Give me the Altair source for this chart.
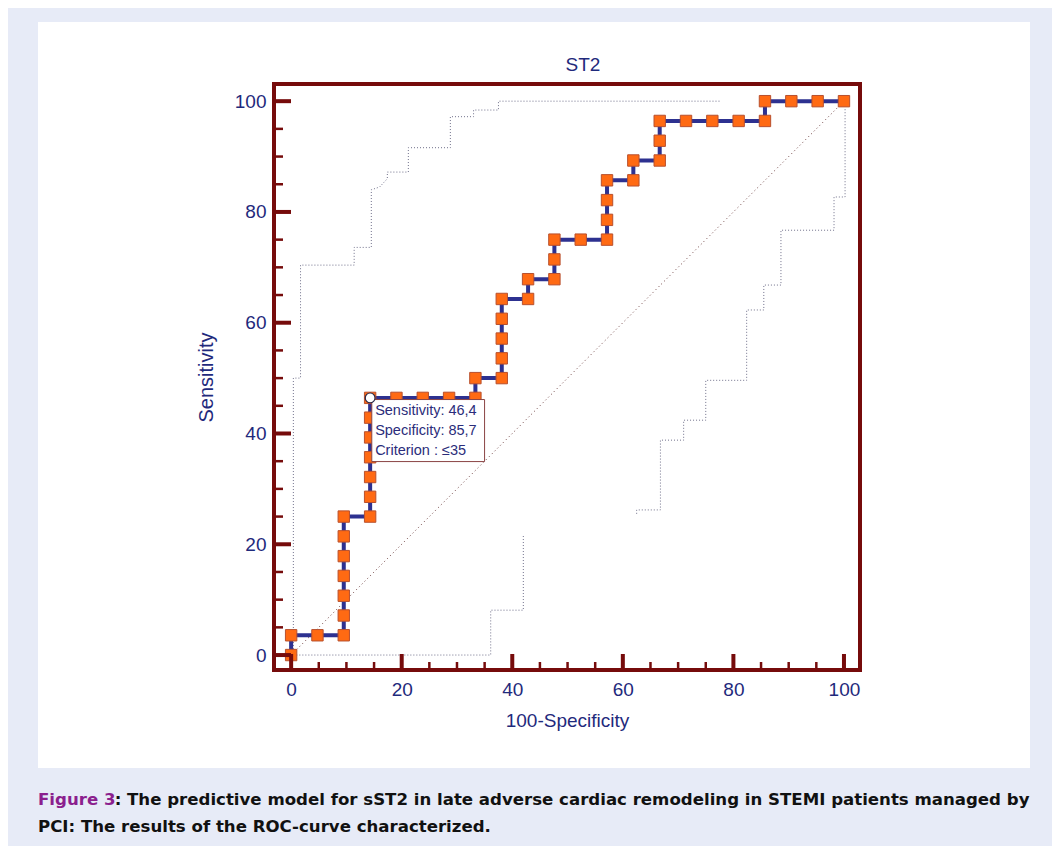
import altair as alt
import pandas as pd

# ---------------- data ----------------
roc_x = [0, 0, 4.76, 9.52, 9.52, 9.52, 9.52, 9.52, 9.52, 9.52,
         14.29, 14.29, 14.29, 14.29, 14.29, 14.29, 14.29,
         19.05, 23.81, 28.57, 33.33, 33.33,
         38.10, 38.10, 38.10, 38.10, 38.10,
         42.86, 42.86, 47.62, 47.62, 47.62, 52.38,
         57.14, 57.14, 57.14, 57.14, 61.90, 61.90,
         66.67, 66.67, 66.67, 71.43, 76.19, 80.95, 85.71, 85.71,
         90.48, 95.24, 100]
roc_y = [0, 3.57, 3.57, 3.57, 7.14, 10.71, 14.29, 17.86, 21.43, 25.0,
         25.0, 28.57, 32.14, 35.71, 39.29, 42.86, 46.43,
         46.43, 46.43, 46.43, 46.43, 50.0,
         50.0, 53.57, 57.14, 60.71, 64.29,
         64.29, 67.86, 67.86, 71.43, 75.0, 75.0,
         75.0, 78.57, 82.14, 85.71, 85.71, 89.29,
         89.29, 92.86, 96.43, 96.43, 96.43, 96.43, 96.43, 100,
         100, 100, 100]

upper_x = [0.4, 0.4, 1.7, 1.7, 11.4, 11.4, 14.5, 14.5, 16.0, 17.4, 17.4,
           21.2, 21.2, 28.8, 28.8, 33.0, 33.0, 37.5, 37.5, 77.6]
upper_y = [0, 50.0, 50.0, 70.4, 70.4, 73.6, 73.6, 84.0, 84.5, 86.0, 87.2,
           87.2, 91.6, 91.6, 97.2, 97.2, 98.4, 98.4, 100, 100]

lowerA_x = [0.4, 36.1, 36.1, 42.0, 42.0]
lowerA_y = [0, 0, 8.1, 8.1, 21.7]

lowerB_x = [62.5, 62.5, 66.8, 66.8, 71.0, 71.0, 75.0, 75.0, 82.4, 82.4,
            85.5, 85.5, 88.6, 88.6, 98.2, 98.2, 100.2, 100.2]
lowerB_y = [25.5, 26.2, 26.2, 38.8, 38.8, 42.4, 42.4, 49.6, 49.6, 62.3,
            62.3, 66.8, 66.8, 76.7, 76.7, 82.7, 82.7, 98.6]

diag_x = [0, 100]
diag_y = [0, 100]

cut_x = 14.29
cut_y = 46.43
ann_lines = ["Sensitivity: 46,4", "Specificity: 85,7", "Criterion : \u226435"]

tick_major = [0, 20, 40, 60, 80, 100]
tick_minor = [5, 10, 15, 25, 30, 35, 45, 50, 55, 65, 70, 75, 85, 90, 95]

chart_title = "ST2"
x_title = "100-Specificity"
y_title = "Sensitivity"
caption_head = "Figure 3"
caption_1 = ": The predictive model for sST2 in late adverse cardiac remodeling in STEMI patients managed by"
caption_2 = "PCI: The results of the ROC-curve characterized."

# ---------------- styling ----------------
W, H = 586, 586
NAVY = "#1f2a7c"
MAROON = "#760b0b"
FONT = "Liberation Sans"
BG = "#e7ebf7"

XS = alt.Scale(domain=[-3.1, 102.9], nice=False, zero=False)
YS = alt.Scale(domain=[-2.7, 103.1], nice=False, zero=False)

x_axis = alt.Axis(values=tick_major, domain=False, ticks=False, grid=False, zindex=1,
                  labelFont=FONT, labelFontSize=19, labelColor=NAVY, labelPadding=10,
                  title=x_title, titleFont=FONT, titleFontSize=19, titleFontWeight="normal",
                  titleColor=NAVY, titlePadding=12)
y_axis = alt.Axis(values=tick_major, domain=False, ticks=False, grid=False, zindex=1,
                  labelFont=FONT, labelFontSize=19, labelColor=NAVY, labelPadding=8,
                  title=y_title, titleFont=FONT, titleFontSize=20, titleFontWeight="normal",
                  titleColor=NAVY, titlePadding=18)


def X(f):
    return alt.X(f"{f}:Q", scale=XS, axis=x_axis)


def Y(f):
    return alt.Y(f"{f}:Q", scale=YS, axis=y_axis)


one = pd.DataFrame({"a": [0]})

roc_df = pd.DataFrame({"x": roc_x, "y": roc_y, "i": range(len(roc_x))})

band_rows = []
for seg, xs, ys in (("up", upper_x, upper_y), ("lowA", lowerA_x, lowerA_y), ("lowB", lowerB_x, lowerB_y)):
    for k, (a, b) in enumerate(zip(xs, ys)):
        band_rows.append({"x": a, "y": b, "i": k, "seg": seg})
band_df = pd.DataFrame(band_rows)
diag_df = pd.DataFrame({"x": diag_x, "y": diag_y, "i": [0, 1]})
cut_df = pd.DataFrame({"x": [cut_x], "y": [cut_y]})
box_df = pd.DataFrame({"x0": [cut_x + 0.3], "x1": [cut_x + 20.7],
                       "y0": [cut_y - 0.3], "y1": [cut_y - 11.5]})
maj_df = pd.DataFrame({"v": tick_major})
min_df = pd.DataFrame({"v": tick_minor})

panel = alt.Chart(one).mark_rect(fill="white").encode(
    x=alt.value(-236), x2=alt.value(756), y=alt.value(-62), y2=alt.value(684))

bands = alt.Chart(band_df).mark_line(color="#70708a", strokeWidth=1, strokeDash=[1, 2]).encode(
    x=X("x"), y=Y("y"), order="i:Q", detail="seg:N")

diag = alt.Chart(diag_df).mark_line(color="#6a3a3a", strokeWidth=1, strokeDash=[1, 3]).encode(
    x=X("x"), y=Y("y"), order="i:Q")

roc_line = alt.Chart(roc_df).mark_line(color="#2d3190", strokeWidth=4).encode(
    x=X("x"), y=Y("y"), order="i:Q")

squares = alt.Chart(roc_df).mark_square(size=130, fill="#ff6a13", stroke="#b8502e",
                                        strokeWidth=1, opacity=1).encode(x=X("x"), y=Y("y"))

box = alt.Chart(box_df).mark_rect(fill="white", stroke="#8a4444", strokeWidth=1).encode(
    x=X("x0"), x2="x1", y=Y("y0"), y2="y1")

ann = alt.Chart(cut_df).mark_text(align="left", baseline="top", dx=5, dy=6, lineHeight=20,
                                  font=FONT, fontSize=14.5, color="#2b2d7a",
                                  text=ann_lines).encode(x=X("x"), y=Y("y"))

cut_pt = alt.Chart(cut_df).mark_point(shape="circle", filled=True, fill="white", stroke="#2a2a4a",
                                      strokeWidth=1.2, size=95, opacity=1).encode(x=X("x"), y=Y("y"))

xt_major = alt.Chart(maj_df).mark_rule(color=MAROON, strokeWidth=4).encode(
    x=X("v"), y=alt.value(H), y2=alt.value(H - 16))
xt_minor = alt.Chart(min_df).mark_rule(color=MAROON, strokeWidth=2.5).encode(
    x=X("v"), y=alt.value(H), y2=alt.value(H - 8))
yt_major = alt.Chart(maj_df).mark_rule(color=MAROON, strokeWidth=4).encode(
    y=Y("v"), x=alt.value(0), x2=alt.value(17))
yt_minor = alt.Chart(min_df).mark_rule(color=MAROON, strokeWidth=2.5).encode(
    y=Y("v"), x=alt.value(0), x2=alt.value(9))

frame = alt.Chart(one).mark_rect(fillOpacity=0, stroke=MAROON, strokeWidth=4).encode(
    x=alt.value(0), x2=alt.value(W), y=alt.value(0), y2=alt.value(H))

title_mark = alt.Chart(pd.DataFrame({"t": [chart_title]})).mark_text(
    align="center", baseline="bottom", font=FONT, fontSize=19, color=NAVY).encode(
    x=alt.value(W / 2 + 16), y=alt.value(-9), text="t:N")

cap_font = "DejaVu Sans"
cap_size = 16.6
cap_x = -236
head_w = 4.616 * cap_size  # advance width of "Figure 3" in DejaVu Sans Bold
cap_head = alt.Chart(pd.DataFrame({"t": [caption_head]})).mark_text(
    align="left", baseline="alphabetic", font=cap_font, fontSize=cap_size, fontWeight="bold",
    color="#8b1f8e").encode(x=alt.value(cap_x), y=alt.value(721), text="t:N")
cap1 = alt.Chart(pd.DataFrame({"t": [caption_1]})).mark_text(
    align="left", baseline="alphabetic", font=cap_font, fontSize=cap_size, fontWeight="bold",
    color="#111111").encode(x=alt.value(cap_x + head_w), y=alt.value(721), text="t:N")
cap2 = alt.Chart(pd.DataFrame({"t": [caption_2]})).mark_text(
    align="left", baseline="alphabetic", font=cap_font, fontSize=cap_size, fontWeight="bold",
    color="#111111").encode(x=alt.value(cap_x), y=alt.value(748), text="t:N")

chart = alt.layer(
    panel, bands, diag, roc_line, squares, box, ann, cut_pt,
    xt_major, xt_minor, yt_major, yt_minor, frame, title_mark, cap_head, cap1, cap2
).properties(
    width=W, height=H,
    autosize=alt.AutoSizeParams(type="none"),
    padding={"left": 266, "top": 76, "right": 192, "bottom": 176},
    background=BG,
).configure_view(strokeWidth=0)

chart.save("out.html", embed_options={"renderer": "svg", "actions": False})
